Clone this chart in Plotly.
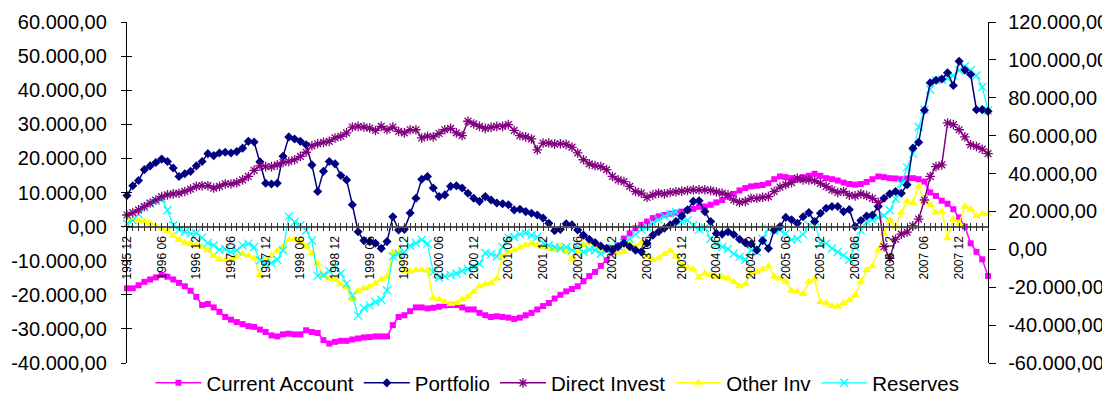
import plotly.graph_objects as go

# ---------------- data ----------------
periods = [f"{1995 + (11 + k) // 12} {(11 + k) % 12 + 1:02d}" for k in range(150)]

current_account = [
    -18100, -18100, -17200, -16200, -15500, -14900, -14200, -14700, -15500, -16500, -17500, -18800, -20600, -23000, -22700, -23700, -25000, -26500, -27300, -28000, -28600, -29200, -29400, -30200, -30900,
    -31900, -32200, -31600, -31400, -31600, -31600, -30400, -30900, -31200, -33300, -34300, -33800, -33500, -33500, -33100, -32800, -32500, -32400, -32200, -32200, -32200, -28900, -26500, -26000, -24800,
    -23700, -23700, -24000, -23800, -23500, -23100, -23000, -23000, -23700, -24300, -24300, -25300, -26000, -26500, -26300, -26500, -26700, -27100, -26700, -26000, -25300, -24300, -23300, -22400, -21100,
    -20000, -19000, -18300, -17500, -16000, -14500, -13300, -11500, -9800, -7500, -5500, -3500, -2000, -500, 500, 1500, 2500, 3000, 3400, 3800, 4100, 4400, 4800, 5200, 5800,
    5900, 6400, 7100, 7800, 8800, 9600, 10600, 11300, 11800, 12000, 12200, 12700, 13900, 14700, 14500, 14200, 13900, 14500, 14900, 15500, 14900, 14200, 13900, 13500, 12900,
    12500, 12300, 12500, 13100, 13900, 14700, 14500, 14200, 14100, 13900, 14100, 14200, 13900, 13200, 10000, 9000, 7600, 6700, 5100, 2700, 0, -4900, -7400, -9600, -14500,
]

portfolio = [
    9100, 12000, 13500, 16700, 17800, 18800, 19800, 19100, 17200, 14700, 15500, 16200, 17800, 19100, 21400, 20800, 21600, 21800, 21600, 22000, 23000, 25000, 24800, 19000, 12700,
    12500, 12700, 20600, 26300, 25700, 25000, 24000, 18100, 10300, 16200, 19100, 18400, 15000, 13700, 6400, -1500, -4100, -4400, -4900, -6400, -4400, 2900, -1000, -800, 4000,
    8300, 13900, 14700, 11300, 8800, 9300, 11800, 12000, 11300, 9800, 8300, 7400, 8800, 7800, 6900, 6700, 6400, 4900, 5100, 4400, 3900, 3400, 2500, 1000, -1200,
    -800, 800, 500, -1000, -2500, -3700, -4700, -5700, -6400, -6900, -5900, -4900, -5900, -6900, -7400, -4900, -2500, -1500, -500, 500, 1500, 3100, 4900, 7400, 7600,
    4400, 1500, -2000, -2200, -1500, -2300, -3700, -4700, -5100, -6900, -4100, -6400, -1000, 0, 2700, 2000, 1000, 2900, 4100, 1500, 3900, 5400, 5900, 5900, 4400,
    5000, 0, 1800, 3100, 3400, 5900, 8300, 9600, 10300, 9800, 12300, 23000, 24700, 34100, 42200, 42900, 43300, 45100, 41400, 48500, 45900, 44600, 34300, 34300, 33800,
]

direct_invest = [
    3400, 4100, 4900, 5900, 6900, 7800, 8800, 9300, 9600, 9800, 10300, 11000, 11800, 12000, 12000, 11300, 11800, 12500, 12500, 12900, 13700, 14700, 16500, 17800, 17600,
    17600, 18100, 18800, 19100, 19600, 20600, 21800, 23700, 24300, 24700, 25000, 26000, 26500, 27500, 29200, 29400, 29200, 28900, 28200, 29400, 28400, 29200, 27900, 27500, 28400,
    28400, 26000, 26500, 26300, 27300, 28400, 28800, 27500, 26700, 30900, 30100, 29400, 28800, 29100, 29400, 29400, 29900, 28200, 26700, 26300, 25700, 22500, 24500, 24500, 24200,
    24300, 24100, 23300, 21600, 19600, 18400, 17900, 17600, 16700, 14700, 13700, 13200, 11800, 10300, 9800, 8600, 9300, 9800, 9600, 10000, 10200, 10400, 10600, 10800, 10800,
    10800, 10600, 10200, 9800, 9300, 7800, 7100, 7400, 8300, 8300, 8600, 8800, 10300, 11600, 12300, 12900, 14200, 13700, 13700, 13500, 12700, 11800, 10800, 10000, 10300,
    9200, 9000, 9600, 9100, 8300, 7100, -5900, -9300, -3700, -2200, -1600, 200, 2200, 7800, 14700, 17600, 18100, 30400, 29900, 28400, 26300, 24000, 23500, 22700, 21400,
]

other_inv = [
    2000, 2200, 1800, 1500, 1000, 200, -500, -1200, -2700, -3900, -4700, -5100, -5400, -5900, -6900, -8600, -9600, -9800, -9600, -8800, -8000, -8600, -9300, -14200, -9800,
    -8600, -7100, -5900, -3900, -3700, -4400, -5900, -7800, -10800, -14500, -15200, -15500, -16900, -17800, -21400, -18800, -18100, -17600, -16700, -15500, -14700, -7600, -7400, -12900, -13200,
    -12700, -12700, -12900, -21100, -21400, -22100, -22700, -22400, -21400, -20600, -19100, -17500, -16900, -16500, -15200, -8800, -7400, -6900, -6100, -5400, -4900, -5400, -5900, -6400, -6600,
    -5900, -7400, -9600, -7400, -5400, -4700, -5700, -6900, -7400, -7100, -7600, -7400, -4900, -5900, -4900, -8800, -9800, -9300, -8000, -7100, -8800, -11300, -12000, -12500, -14900,
    -13700, -14200, -14700, -14700, -15200, -16200, -17500, -16900, -13700, -13300, -12500, -11600, -14700, -15200, -16200, -18800, -19100, -19800, -16200, -15500, -22100, -22500, -23300, -23500, -22400,
    -21600, -20100, -16200, -12700, -11600, -6900, -2000, 1800, 0, 4100, 7400, 6900, 11800, 7400, 6400, 4100, 4400, -3400, 2200, 1000, 5900, 5100, 3100, 3700, 3700,
]

reserves = [
    13500, 15300, 18500, 22000, 24100, 25500, 26700, 20600, 12700, 10400, 9300, 8300, 8600, 6200, 3300, 2100, -200, 200, -1400, -500, 2100, 3000, 1200, -5800, -7600,
    -7200, -5500, -500, 17400, 14400, 12700, 10000, 4700, -14000, -13500, -11400, -9000, -12800, -18100, -24300, -35000, -31000, -29600, -27800, -26600, -21600, -3700, -2300, -1400, 1900,
    3300, 5100, 3000, -12000, -15000, -14200, -13500, -12800, -11400, -10400, -9300, -7600, -1900, -2600, -3700, 1200, 6200, 6500, 7900, 8600, 7400, 6500, 3300, 2100, 1200,
    400, 1200, -500, 1200, -1400, -200, -500, -2300, -500, 900, 1600, 3300, 5600, 7900, 10400, 11800, 13900, 15700, 17400, 18800, 19700, 15000, 15300, 12700, 10400,
    11400, 5600, 2600, 1200, 200, -2300, -4000, -5500, -500, -1400, 5600, 10700, 10000, 10000, 8300, 5100, 5600, 7900, 12700, 15000, 3000, 3000, 400, -1400, -3200,
    -5500, 1200, 10000, 14400, 15700, 16700, 17900, 20600, 26700, 34600, 43400, 50500, 64600, 73700, 84300, 89200, 89500, 90100, 91800, 94500, 96600, 94500, 91800, 85700, 73300,
]

left_ticks = [-40000, -30000, -20000, -10000, 0, 10000, 20000, 30000, 40000, 50000, 60000]
left_tick_labels = ["-40.000,00", "-30.000,00", "-20.000,00", "-10.000,00", "0,00", "10.000,00",
                    "20.000,00", "30.000,00", "40.000,00", "50.000,00", "60.000,00"]
right_ticks = [-60000, -40000, -20000, 0, 20000, 40000, 60000, 80000, 100000, 120000]
right_tick_labels = ["-60.000,00", "-40.000,00", "-20.000,00", "0,00", "20.000,00", "40.000,00",
                     "60.000,00", "80.000,00", "100.000,00", "120.000,00"]
left_range = [-40000, 60000]
right_range = [-60000, 120000]

# ---------------- figure ----------------
n = len(periods)
xr = [0, n - 1]
zero_pos = (0 - left_range[0]) / (left_range[1] - left_range[0])

fig = go.Figure()

fig.add_trace(go.Scatter(x=periods, y=current_account, name="Current Account", mode="lines+markers",
                         line=dict(color="#FF00FF", width=1.5),
                         marker=dict(symbol="square", size=6, color="#FF00FF"),
                         cliponaxis=False, xaxis="x", yaxis="y"))
fig.add_trace(go.Scatter(x=periods, y=portfolio, name="Portfolio", mode="lines+markers",
                         line=dict(color="#000080", width=1.5),
                         marker=dict(symbol="diamond", size=7, color="#000080"),
                         cliponaxis=False, xaxis="x2", yaxis="y3"))
fig.add_trace(go.Scatter(x=periods, y=direct_invest, name="Direct Invest", mode="lines+markers",
                         line=dict(color="#800080", width=1.5),
                         marker=dict(symbol="asterisk-open", size=8, color="#800080",
                                     line=dict(color="#800080", width=1.3)),
                         cliponaxis=False, xaxis="x2", yaxis="y3"))
fig.add_trace(go.Scatter(x=periods, y=other_inv, name="Other Inv", mode="lines+markers",
                         line=dict(color="#FFFF00", width=1.5),
                         marker=dict(symbol="triangle-up", size=8, color="#FFFF00"),
                         cliponaxis=False, xaxis="x", yaxis="y"))
fig.add_trace(go.Scatter(x=periods, y=reserves, name="Reserves", mode="lines+markers",
                         line=dict(color="#00FFFF", width=1.2),
                         marker=dict(symbol="x-thin-open", size=8, color="#00FFFF",
                                     line=dict(color="#00FFFF", width=1.3)),
                         cliponaxis=False, xaxis="x", yaxis="y2"))

tick_font_y = dict(family="Liberation Sans, Arial", size=20, color="black")
tick_font_x = dict(family="Liberation Sans, Arial", size=12, color="black")

# the page places the figure 8px from the top-left corner, so the figure is
# sized to the visible 1102x395 area
fig.update_layout(
    width=1102, height=395,
    margin=dict(l=119, r=122, t=14, b=40, autoexpand=False),
    paper_bgcolor="white", plot_bgcolor="white",
    font=dict(family="Liberation Sans, Arial", color="black"),
    showlegend=True,
    legend=dict(orientation="h", x=0.5, xanchor="center",
                yref="container", y=-0.012, yanchor="bottom",
                font=dict(size=20.5, family="Liberation Sans, Arial", color="black"),
                bgcolor="rgba(0,0,0,0)", borderwidth=0, itemwidth=46, tracegroupgap=0),
    xaxis=dict(type="category", range=xr, anchor="free", position=zero_pos,
               showline=True, linecolor="#555555", linewidth=1.5,
               ticks="outside", ticklen=4, tickwidth=1, tickcolor="#333333",
               dtick=1, ticklabelstep=6, tickangle=-90, tickfont=tick_font_x,
               showgrid=False, zeroline=False),
    xaxis2=dict(type="category", range=xr, overlaying="x", anchor="free", position=zero_pos,
                showline=False, ticks="inside", ticklen=4, tickwidth=1, tickcolor="#333333",
                dtick=1, showticklabels=False, showgrid=False, zeroline=False),
    yaxis=dict(range=left_range, tickvals=left_ticks, ticktext=left_tick_labels,
               showline=True, linecolor="black", linewidth=1.3,
               ticks="outside", ticklen=5, tickcolor="black", ticklabelstandoff=10,
               tickfont=tick_font_y, showgrid=False, zeroline=False, anchor="x"),
    yaxis3=dict(range=left_range, tickvals=left_ticks, overlaying="y", side="left", anchor="x2",
                showline=False, ticks="inside", ticklen=5, tickcolor="black",
                showticklabels=False, showgrid=False, zeroline=False),
    yaxis2=dict(range=right_range, tickvals=right_ticks, ticktext=right_tick_labels,
                overlaying="y", side="right", anchor="x",
                showline=True, linecolor="black", linewidth=1.3,
                ticks="outside", ticklen=7, tickcolor="black", ticklabelstandoff=8,
                tickfont=tick_font_y, showgrid=False, zeroline=False),
    yaxis4=dict(range=right_range, tickvals=right_ticks, overlaying="y", side="right", anchor="x",
                showline=False, ticks="inside", ticklen=7, tickcolor="black",
                showticklabels=False, showgrid=False, zeroline=False),
)

fig.write_html("out.html")
